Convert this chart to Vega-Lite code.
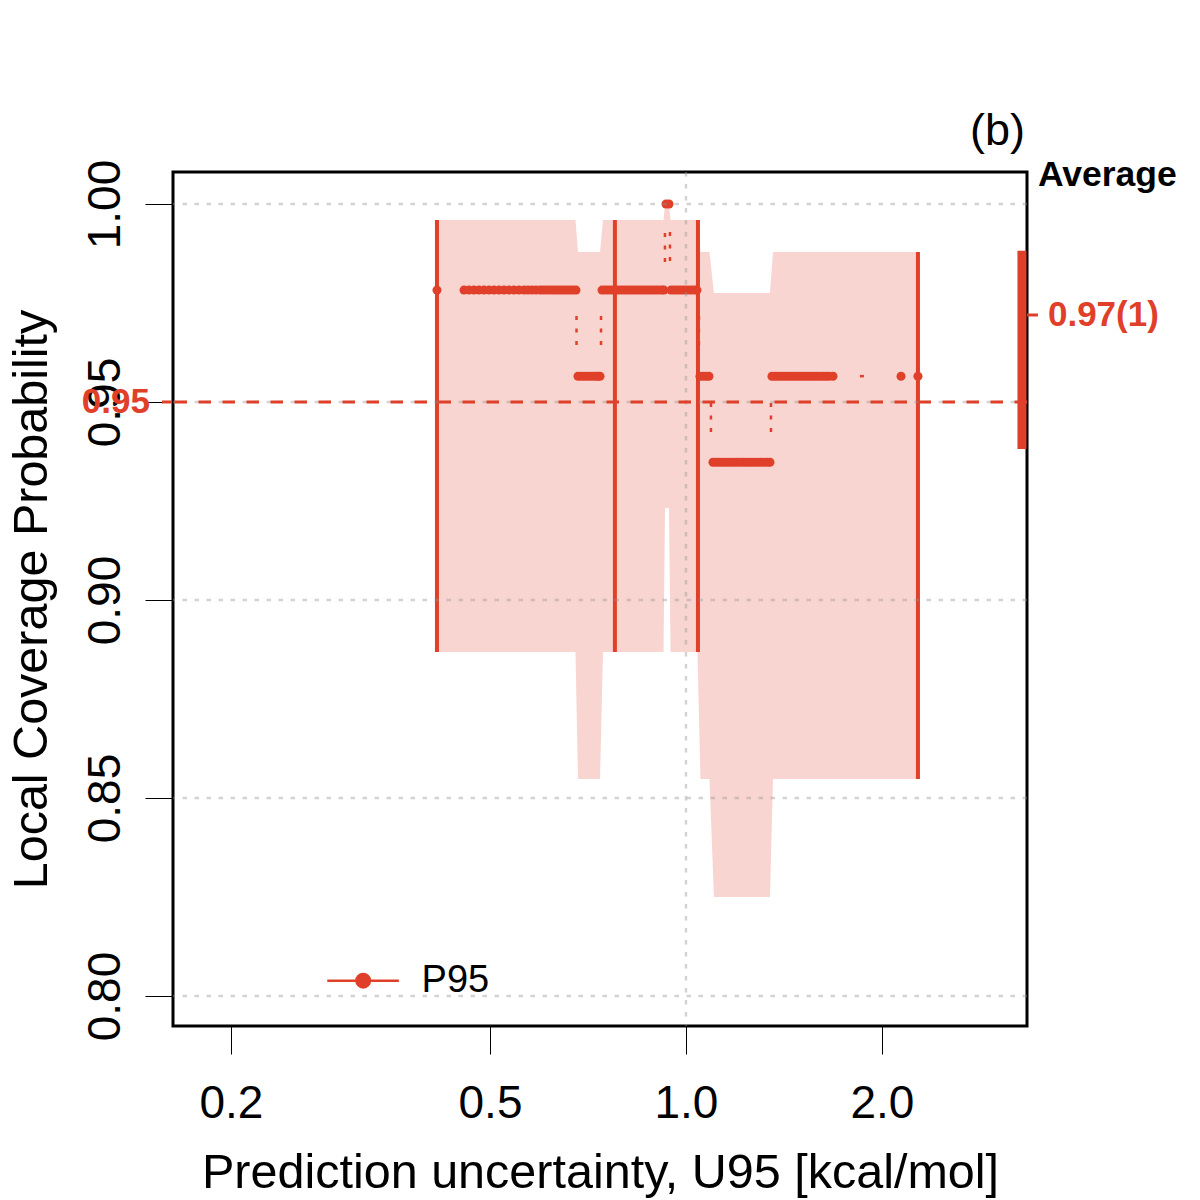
{
  "$schema": "https://vega.github.io/schema/vega-lite/v6.json",
  "width": 854,
  "height": 854,
  "autosize": {"type": "none"},
  "padding": {"left": 173, "top": 172, "right": 173, "bottom": 174},
  "background": "white",
  "config": {
    "font": "Liberation Sans",
    "view": {"stroke": "black", "strokeWidth": 3},
    "axis": {
      "labelFont": "Liberation Sans",
      "titleFont": "Liberation Sans",
      "labelFontSize": 46,
      "titleFontSize": 48.5,
      "labelColor": "black",
      "titleColor": "black",
      "titleFontWeight": "normal",
      "tickColor": "black",
      "tickWidth": 1,
      "tickSize": 28,
      "domain": false,
      "grid": false,
      "labelFlush": false,
      "labelOverlap": false,
      "labelBound": false
    }
  },
  "layer": [
    {
      "data": {"values": [
        {"x": 0.4145, "lo": 0.88687, "hi": 0.99596},
        {"x": 0.6766, "lo": 0.88687, "hi": 0.99596},
        {"x": 0.6826, "lo": 0.8548, "hi": 0.98788},
        {"x": 0.7379, "lo": 0.8548, "hi": 0.98788},
        {"x": 0.7457, "lo": 0.88687, "hi": 0.99596},
        {"x": 0.9237, "lo": 0.88687, "hi": 0.99596},
        {"x": 0.9286, "lo": 0.9232, "hi": 1.0},
        {"x": 0.9418, "lo": 0.9232, "hi": 1.0},
        {"x": 0.9469, "lo": 0.88687, "hi": 0.99596},
        {"x": 1.0415, "lo": 0.88687, "hi": 0.99596},
        {"x": 1.0527, "lo": 0.8548, "hi": 0.98788},
        {"x": 1.0867, "lo": 0.8548, "hi": 0.98788},
        {"x": 1.1041, "lo": 0.825, "hi": 0.97753},
        {"x": 1.3461, "lo": 0.825, "hi": 0.97753},
        {"x": 1.3605, "lo": 0.8548, "hi": 0.98788},
        {"x": 2.2799, "lo": 0.8548, "hi": 0.98788}
      ]},
      "mark": {"type": "area", "color": "#E0402A", "opacity": 0.22, "interpolate": "linear"},
      "encoding": {
        "x": {
          "field": "x", "type": "quantitative",
          "scale": {"type": "log", "domain": [0.16295, 3.341], "nice": false},
          "axis": {
            "values": [0.2, 0.5, 1, 2], "format": ".1f",
            "title": "Prediction uncertainty, U95 [kcal/mol]",
            "labelBaseline": "alphabetic", "labelPadding": 63,
            "titleBaseline": "alphabetic", "titleY": 161
          }
        },
        "y": {
          "field": "hi", "type": "quantitative",
          "scale": {"domain": [0.79242, 1.00808], "nice": false, "zero": false},
          "axis": {
            "values": [0.8, 0.85, 0.9, 0.95, 1.0], "format": ".2f",
            "title": "Local Coverage Probability",
            "labelAngle": -90, "labelAlign": "center", "labelBaseline": "alphabetic", "labelPadding": 26,
            "titleBaseline": "alphabetic", "titleX": -127
          }
        },
        "y2": {"field": "lo"}
      }
    },
    {
      "data": {"values": [
        {"x": 0.4145, "lo": 0.88687, "hi": 0.99596},
        {"x": 0.7778, "lo": 0.88687, "hi": 0.99596},
        {"x": 1.0434, "lo": 0.88687, "hi": 0.99596},
        {"x": 2.2718, "lo": 0.8548, "hi": 0.98788}
      ]},
      "mark": {"type": "rule", "color": "#E0402A", "strokeWidth": 4},
      "encoding": {
        "x": {"field": "x", "type": "quantitative"},
        "y": {"field": "hi", "type": "quantitative"},
        "y2": {"field": "lo"}
      }
    },
    {
      "data": {"values": [
        {"x": 0.679, "x2": 0.679, "y": 0.97172, "y2": 0.96439},
        {"x": 0.7405, "x2": 0.7405, "y": 0.96439, "y2": 0.97172},
        {"x": 0.9284, "x2": 0.9284, "y": 0.98535, "y2": 0.99293},
        {"x": 0.945, "x2": 0.945, "y": 0.99293, "y2": 0.98535},
        {"x": 1.0471, "x2": 1.0471, "y": 0.97172, "y2": 0.96439},
        {"x": 1.0925, "x2": 1.0925, "y": 0.94975, "y2": 0.94242},
        {"x": 1.3507, "x2": 1.3507, "y": 0.94242, "y2": 0.94975},
        {"x": 1.8503, "x2": 1.8767, "y": 0.95652, "y2": 0.95652}
      ]},
      "mark": {"type": "rule", "color": "#E0402A", "strokeWidth": 2.5, "strokeDash": [4, 8.5]},
      "encoding": {
        "x": {"field": "x", "type": "quantitative"},
        "x2": {"field": "x2"},
        "y": {"field": "y", "type": "quantitative"},
        "y2": {"field": "y2"}
      }
    },
    {
      "data": {"values": [
        {"x": 0.4145, "y": 0.97826}, {"x": 0.4561, "y": 0.97826}, {"x": 0.4642, "y": 0.97826},
        {"x": 0.4725, "y": 0.97826}, {"x": 0.4809, "y": 0.97826}, {"x": 0.4895, "y": 0.97826},
        {"x": 0.4983, "y": 0.97826}, {"x": 0.5071, "y": 0.97826}, {"x": 0.5162, "y": 0.97826},
        {"x": 0.5254, "y": 0.97826}, {"x": 0.5348, "y": 0.97826}, {"x": 0.5443, "y": 0.97826},
        {"x": 0.554, "y": 0.97826}, {"x": 0.5639, "y": 0.97826}, {"x": 0.572, "y": 0.97826},
        {"x": 0.5801, "y": 0.97826}, {"x": 0.5884, "y": 0.97826}, {"x": 0.5967, "y": 0.97826},
        {"x": 0.6031, "y": 0.97826}, {"x": 0.6095, "y": 0.97826}, {"x": 0.616, "y": 0.97826},
        {"x": 0.6226, "y": 0.97826}, {"x": 0.6293, "y": 0.97826}, {"x": 0.636, "y": 0.97826},
        {"x": 0.6428, "y": 0.97826}, {"x": 0.6496, "y": 0.97826}, {"x": 0.6566, "y": 0.97826},
        {"x": 0.6636, "y": 0.97826}, {"x": 0.6706, "y": 0.97826}, {"x": 0.6778, "y": 0.97826},
        {"x": 0.6826, "y": 0.95652}, {"x": 0.6899, "y": 0.95652}, {"x": 0.6972, "y": 0.95652},
        {"x": 0.7047, "y": 0.95652}, {"x": 0.7122, "y": 0.95652}, {"x": 0.7198, "y": 0.95652},
        {"x": 0.7275, "y": 0.95652}, {"x": 0.7327, "y": 0.95652}, {"x": 0.7379, "y": 0.95652},
        {"x": 0.7431, "y": 0.97826}, {"x": 0.751, "y": 0.97826}, {"x": 0.759, "y": 0.97826},
        {"x": 0.7671, "y": 0.97826}, {"x": 0.7753, "y": 0.97826}, {"x": 0.7836, "y": 0.97826},
        {"x": 0.792, "y": 0.97826}, {"x": 0.8004, "y": 0.97826}, {"x": 0.8089, "y": 0.97826},
        {"x": 0.8176, "y": 0.97826}, {"x": 0.8263, "y": 0.97826}, {"x": 0.8351, "y": 0.97826},
        {"x": 0.844, "y": 0.97826}, {"x": 0.853, "y": 0.97826}, {"x": 0.8621, "y": 0.97826},
        {"x": 0.8713, "y": 0.97826}, {"x": 0.8806, "y": 0.97826}, {"x": 0.89, "y": 0.97826},
        {"x": 0.8995, "y": 0.97826}, {"x": 0.9091, "y": 0.97826}, {"x": 0.9188, "y": 0.97826},
        {"x": 0.9253, "y": 0.97826},
        {"x": 0.9319, "y": 1.0}, {"x": 0.9418, "y": 1.0},
        {"x": 0.9485, "y": 0.97826}, {"x": 0.9587, "y": 0.97826}, {"x": 0.9689, "y": 0.97826},
        {"x": 0.9792, "y": 0.97826}, {"x": 0.9897, "y": 0.97826}, {"x": 1.0, "y": 0.97826},
        {"x": 1.0107, "y": 0.97826}, {"x": 1.0215, "y": 0.97826}, {"x": 1.0324, "y": 0.97826},
        {"x": 1.0397, "y": 0.97826},
        {"x": 1.0508, "y": 0.95652}, {"x": 1.062, "y": 0.95652}, {"x": 1.0733, "y": 0.95652},
        {"x": 1.0848, "y": 0.95652},
        {"x": 1.1003, "y": 0.93478}, {"x": 1.112, "y": 0.93478}, {"x": 1.1239, "y": 0.93478},
        {"x": 1.1358, "y": 0.93478}, {"x": 1.148, "y": 0.93478}, {"x": 1.1602, "y": 0.93478},
        {"x": 1.1726, "y": 0.93478}, {"x": 1.1851, "y": 0.93478}, {"x": 1.1977, "y": 0.93478},
        {"x": 1.2105, "y": 0.93478}, {"x": 1.2235, "y": 0.93478}, {"x": 1.2365, "y": 0.93478},
        {"x": 1.2497, "y": 0.93478}, {"x": 1.263, "y": 0.93478}, {"x": 1.2765, "y": 0.93478},
        {"x": 1.2901, "y": 0.93478}, {"x": 1.3039, "y": 0.93478}, {"x": 1.3178, "y": 0.93478},
        {"x": 1.3319, "y": 0.93478}, {"x": 1.3461, "y": 0.93478},
        {"x": 1.3556, "y": 0.95652}, {"x": 1.3701, "y": 0.95652}, {"x": 1.3847, "y": 0.95652},
        {"x": 1.3995, "y": 0.95652}, {"x": 1.4144, "y": 0.95652}, {"x": 1.4295, "y": 0.95652},
        {"x": 1.4448, "y": 0.95652}, {"x": 1.4602, "y": 0.95652}, {"x": 1.4758, "y": 0.95652},
        {"x": 1.4915, "y": 0.95652}, {"x": 1.5074, "y": 0.95652}, {"x": 1.5235, "y": 0.95652},
        {"x": 1.5398, "y": 0.95652}, {"x": 1.5562, "y": 0.95652}, {"x": 1.5728, "y": 0.95652},
        {"x": 1.5896, "y": 0.95652}, {"x": 1.6065, "y": 0.95652}, {"x": 1.6237, "y": 0.95652},
        {"x": 1.641, "y": 0.95652}, {"x": 1.6585, "y": 0.95652}, {"x": 1.6822, "y": 0.95652},
        {"x": 2.1398, "y": 0.95652}, {"x": 2.2718, "y": 0.95652}
      ]},
      "mark": {"type": "circle", "color": "#E0402A", "opacity": 1, "size": 82},
      "encoding": {
        "x": {"field": "x", "type": "quantitative"},
        "y": {"field": "y", "type": "quantitative"}
      }
    },
    {
      "data": {"values": [{"g": 0.8}, {"g": 0.85}, {"g": 0.9}, {"g": 0.95}, {"g": 1.0}]},
      "mark": {"type": "rule", "color": "#909090", "opacity": 0.4, "strokeWidth": 2.5, "strokeDash": [4.5, 7.5]},
      "encoding": {"y": {"field": "g", "type": "quantitative"}}
    },
    {
      "data": {"values": [{"g": 1.0}]},
      "mark": {"type": "rule", "color": "#909090", "opacity": 0.4, "strokeWidth": 2.5, "strokeDash": [4.5, 7.5]},
      "encoding": {"x": {"field": "g", "type": "quantitative"}}
    },
    {
      "data": {"values": [{"target": 0.95}]},
      "mark": {"type": "rule", "color": "#E0402A", "strokeWidth": 2.8, "strokeDash": [12.5, 11.5]},
      "encoding": {"y": {"field": "target", "type": "quantitative"}}
    },
    {
      "data": {"values": [{"x": 3.2817, "lo": 0.93813, "hi": 0.98821}]},
      "mark": {"type": "rule", "color": "#E0402A", "strokeWidth": 9},
      "encoding": {
        "x": {"field": "x", "type": "quantitative"},
        "y": {"field": "hi", "type": "quantitative"},
        "y2": {"field": "lo"}
      }
    },
    {
      "data": {"values": [
        {"x": 3.341, "x2": 3.473, "y": 0.97197},
        {"x": 0.1567, "x2": 0.1624, "y": 0.95}
      ]},
      "mark": {"type": "rule", "color": "#E0402A", "strokeWidth": 3},
      "encoding": {
        "x": {"field": "x", "type": "quantitative"},
        "x2": {"field": "x2"},
        "y": {"field": "y", "type": "quantitative"}
      }
    },
    {
      "data": {"values": [{"x": 3.598, "y": 0.97197, "label": "0.97(1)"}]},
      "mark": {"type": "text", "color": "#E0402A", "fontWeight": "bold", "fontSize": 35, "align": "left", "baseline": "middle", "font": "Liberation Sans"},
      "encoding": {
        "x": {"field": "x", "type": "quantitative"},
        "y": {"field": "y", "type": "quantitative"},
        "text": {"field": "label"}
      }
    },
    {
      "data": {"values": [{"x": 0.1502, "y": 0.95, "label": "0.95"}]},
      "mark": {"type": "text", "color": "#E0402A", "fontWeight": "bold", "fontSize": 35, "align": "right", "baseline": "middle", "font": "Liberation Sans"},
      "encoding": {
        "x": {"field": "x", "type": "quantitative"},
        "y": {"field": "y", "type": "quantitative"},
        "text": {"field": "label"}
      }
    },
    {
      "data": {"values": [{"x": 3.473, "y": 1.00732, "label": "Average"}]},
      "mark": {"type": "text", "color": "black", "fontWeight": "bold", "fontSize": 35.5, "align": "left", "baseline": "middle", "font": "Liberation Sans"},
      "encoding": {
        "x": {"field": "x", "type": "quantitative"},
        "y": {"field": "y", "type": "quantitative"},
        "text": {"field": "label"}
      }
    },
    {
      "data": {"values": [{"x": 3.3175, "y": 1.0149, "label": "(b)"}]},
      "mark": {"type": "text", "color": "black", "fontSize": 45, "align": "right", "baseline": "alphabetic", "font": "Liberation Sans"},
      "encoding": {
        "x": {"field": "x", "type": "quantitative"},
        "y": {"field": "y", "type": "quantitative"},
        "text": {"field": "label"}
      }
    },
    {
      "data": {"values": [{"x": 0.2812, "x2": 0.3623, "y": 0.80386}]},
      "mark": {"type": "rule", "color": "#E0402A", "strokeWidth": 2.5},
      "encoding": {
        "x": {"field": "x", "type": "quantitative"},
        "x2": {"field": "x2"},
        "y": {"field": "y", "type": "quantitative"}
      }
    },
    {
      "data": {"values": [{"x": 0.3193, "y": 0.80386}]},
      "mark": {"type": "circle", "color": "#E0402A", "opacity": 1, "size": 254},
      "encoding": {
        "x": {"field": "x", "type": "quantitative"},
        "y": {"field": "y", "type": "quantitative"}
      }
    },
    {
      "data": {"values": [{"x": 0.3926, "y": 0.80386, "label": "P95"}]},
      "mark": {"type": "text", "color": "black", "fontSize": 38, "align": "left", "baseline": "middle", "font": "Liberation Sans"},
      "encoding": {
        "x": {"field": "x", "type": "quantitative"},
        "y": {"field": "y", "type": "quantitative"},
        "text": {"field": "label"}
      }
    }
  ]
}
